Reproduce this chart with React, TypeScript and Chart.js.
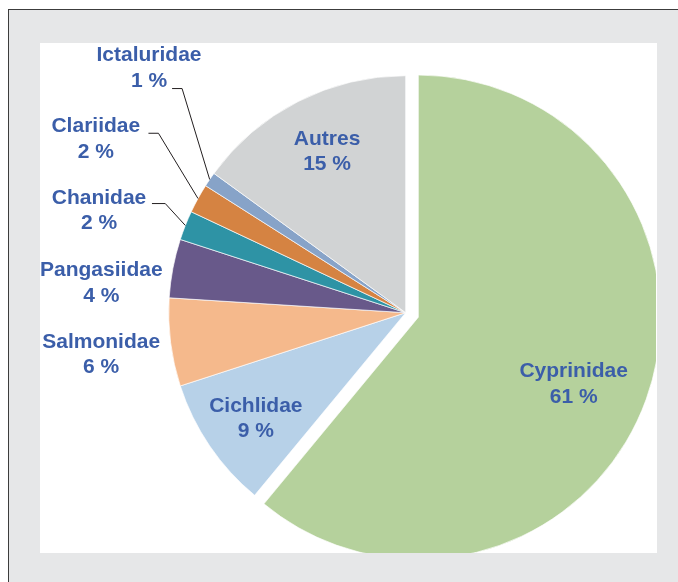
import React, { useEffect, useRef } from 'react';
import { Chart, PieController, ArcElement } from 'chart.js';

Chart.register(PieController, ArcElement);

// ---- Data ----
const CATEGORIES = ['Cyprinidae', 'Cichlidae', 'Salmonidae', 'Pangasiidae', 'Chanidae', 'Clariidae', 'Ictaluridae', 'Autres'];
const VALUES = [61, 9, 6, 4, 2, 2, 1, 15];
const VALUE_LABELS = ['61 %', '9 %', '6 %', '4 %', '2 %', '2 %', '1 %', '15 %'];
const COLORS = ['#b5d19c', '#b7d1e8', '#f5b98c', '#68598a', '#2e93a5', '#d58342', '#87a3c8', '#d1d3d4'];

// ---- Layout / style ----
const W = 678;
const H = 582;
const PLOT_LEFT = 40;
const PLOT_TOP = 43;
const PLOT_W = 617;
const PLOT_H = 510;
const CLIP_W = 616;
const PIE_CX = 405.7;
const PIE_CY = 312.7;
const PIE_RADIUS = 237;
const EXPLODE_INDEX = 0;
const EXPLODE_DISTANCE = 13.4;
const EXPLODE_GROW = 5.2;
const TEXT_COLOR = '#3b5ea9';
const FONT = 'bold 21px "Liberation Sans", Arial, Helvetica, sans-serif';
const LINE_GAP = 25.5;
const CAP_HALF = 7.5;

type Placement =
  | { kind: 'inside'; f: number; dAngle: number }
  | { kind: 'outside'; dx: number; dy: number; leader?: { line: number; gap: number; len: number; dy: number } };

const PLACEMENT: Placement[] = [
  { kind: 'inside', f: 0.711, dAngle: 3 },
  { kind: 'inside', f: 0.771, dAngle: -0.7 },
  { kind: 'outside', dx: -304.5, dy: 40.3 },
  { kind: 'outside', dx: -304.4, dy: -31 },
  { kind: 'outside', dx: -306.7, dy: -103.9, leader: { line: 0, gap: 5.7, len: 13.3, dy: 0 } },
  { kind: 'outside', dx: -309.9, dy: -175.2, leader: { line: 0, gap: 8.3, len: 10, dy: 1 } },
  { kind: 'outside', dx: -256.7, dy: -246, leader: { line: 1, gap: 5, len: 10, dy: 1.6 } },
  { kind: 'inside', f: 0.762, dAngle: 1.2 },
];

const explodePlugin = {
  id: 'explodeSlices',
  beforeDatasetDraw(chart: any, args: any) {
    const ctx = chart.ctx;
    const meta = args.meta;
    ctx.save();
    ctx.beginPath();
    ctx.rect(PLOT_LEFT, PLOT_TOP, CLIP_W, PLOT_H);
    ctx.clip();
    meta.data.forEach((arc: any, i: number) => {
      const exploded = i === EXPLODE_INDEX;
      const d = exploded ? EXPLODE_DISTANCE : 0;
      const mid = (arc.startAngle + arc.endAngle) / 2;
      const r0 = arc.outerRadius;
      if (exploded) arc.outerRadius = r0 + EXPLODE_GROW;
      ctx.save();
      ctx.translate(Math.cos(mid) * d, Math.sin(mid) * d);
      arc.draw(ctx);
      ctx.restore();
      arc.outerRadius = r0;
    });
    ctx.restore();
    return false;
  },
};

const labelPlugin = {
  id: 'sliceLabels',
  afterDatasetsDraw(chart: any) {
    const ctx = chart.ctx;
    const meta = chart.getDatasetMeta(0);
    ctx.save();
    ctx.font = FONT;
    ctx.fillStyle = TEXT_COLOR;
    ctx.textAlign = 'center';
    ctx.textBaseline = 'alphabetic';
    meta.data.forEach((arc: any, i: number) => {
      const p = PLACEMENT[i];
      const mid = (arc.startAngle + arc.endAngle) / 2;
      const d = i === EXPLODE_INDEX ? EXPLODE_DISTANCE : 0;
      const ax = arc.x + Math.cos(mid) * d;
      const ay = arc.y + Math.sin(mid) * d;
      let cx: number;
      let cy: number;
      if (p.kind === 'inside') {
        const a = mid + (p.dAngle * Math.PI) / 180;
        cx = ax + Math.cos(a) * arc.outerRadius * p.f;
        cy = ay + Math.sin(a) * arc.outerRadius * p.f;
      } else {
        cx = arc.x + p.dx;
        cy = arc.y + p.dy;
      }
      const lines = [CATEGORIES[i], VALUE_LABELS[i]];
      const baselines = [cy - LINE_GAP / 2 + CAP_HALF, cy + LINE_GAP / 2 + CAP_HALF];
      lines.forEach((t, li) => ctx.fillText(t, cx, baselines[li]));
      if (p.kind === 'outside' && p.leader) {
        const L = p.leader;
        const w = ctx.measureText(lines[L.line]).width;
        const sx = cx + w / 2 + L.gap;
        const sy = baselines[L.line] + L.dy;
        const ex = ax + Math.cos(mid) * arc.outerRadius;
        const ey = ay + Math.sin(mid) * arc.outerRadius;
        ctx.save();
        ctx.strokeStyle = '#231f20';
        ctx.lineWidth = 1;
        ctx.beginPath();
        ctx.moveTo(sx, sy);
        ctx.lineTo(sx + L.len, sy);
        ctx.lineTo(ex, ey);
        ctx.stroke();
        ctx.restore();
      }
    });
    ctx.restore();
  },
};

export default function App() {
  const ref = useRef<HTMLCanvasElement | null>(null);
  useEffect(() => {
    if (!ref.current) return;
    const half = 250;
    const chart = new Chart(ref.current, {
      type: 'pie',
      data: {
        labels: CATEGORIES,
        datasets: [
          {
            data: VALUES,
            backgroundColor: COLORS,
            borderColor: 'rgba(255,255,255,0.85)',
            borderWidth: 0.8,
          },
        ],
      },
      options: {
        responsive: false,
        maintainAspectRatio: false,
        animation: false,
        devicePixelRatio: 1,
        events: [],
        radius: PIE_RADIUS,
        layout: {
          padding: {
            left: PIE_CX - half,
            right: W - (PIE_CX + half),
            top: PIE_CY - half,
            bottom: H - (PIE_CY + half),
          },
        },
        plugins: {
          legend: { display: false },
          tooltip: { enabled: false },
        },
      } as any,
      plugins: [explodePlugin, labelPlugin],
    });
    return () => chart.destroy();
  }, []);

  return (
    <div style={{ position: 'fixed', left: 0, top: 0, width: W, height: H, background: '#ffffff', overflow: 'hidden' }}>
      <div
        style={{
          position: 'absolute',
          left: 8,
          top: 9,
          width: W + 40,
          height: H + 40,
          background: '#e6e7e8',
          borderLeft: '1px solid #3c3c3c',
          borderTop: '1px solid #3c3c3c',
        }}
      />
      <div style={{ position: 'absolute', left: PLOT_LEFT, top: PLOT_TOP, width: PLOT_W, height: PLOT_H, background: '#ffffff' }} />
      <canvas ref={ref} width={W} height={H} style={{ position: 'absolute', left: 0, top: 0, width: W, height: H }} />
    </div>
  );
}
